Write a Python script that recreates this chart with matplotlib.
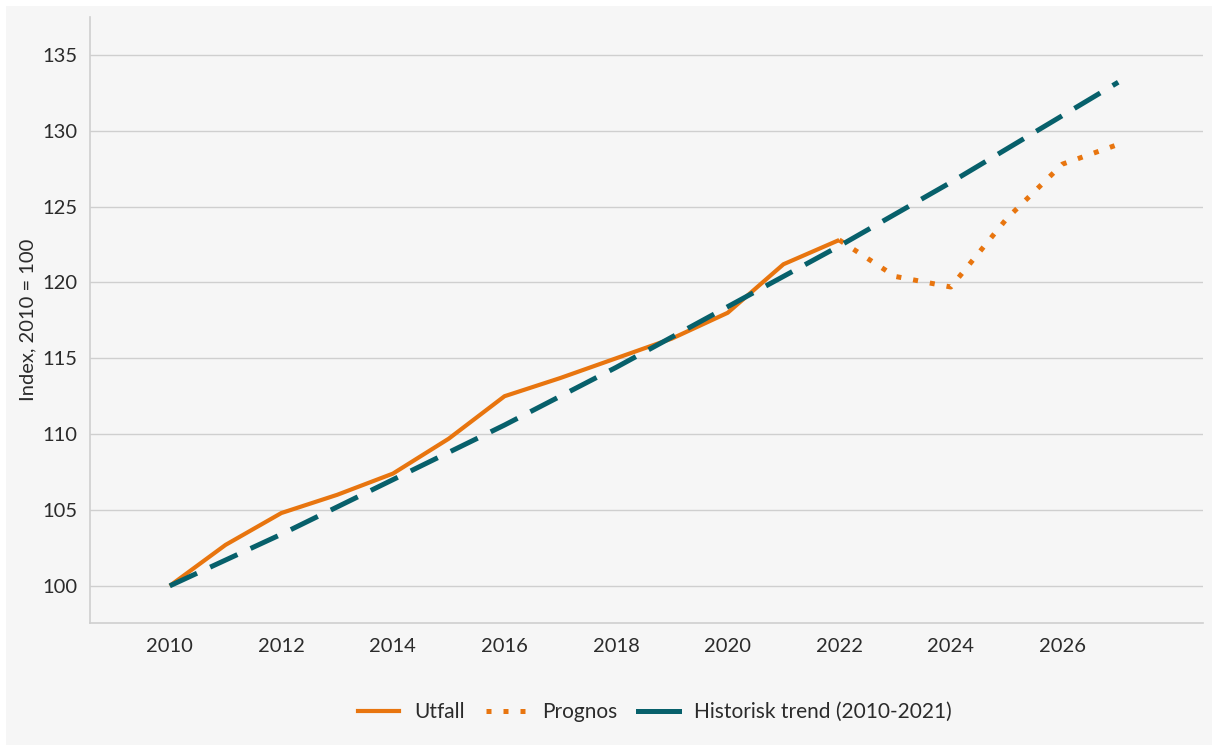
import matplotlib
matplotlib.use("Agg")
import matplotlib.pyplot as plt
from matplotlib.lines import Line2D
from matplotlib.patches import Rectangle

# Data
years_utfall = [2010, 2011, 2012, 2013, 2014, 2015, 2016, 2017, 2018, 2019, 2020, 2021, 2022]
utfall = [100.0, 102.7, 104.8, 106.0, 107.4, 109.7, 112.5, 113.7, 115.0, 116.3, 118.0, 121.2, 122.8]

years_prognos = [2022, 2023, 2024, 2025, 2026, 2027]
prognos = [122.8, 120.4, 119.7, 124.2, 127.8, 129.1]

years_trend = [2010, 2011, 2012, 2013, 2014, 2015, 2016, 2017, 2018,
               2019, 2020, 2021, 2022, 2023, 2024, 2025, 2026, 2027]
trend = [100.0, 101.7, 103.4, 105.2, 107.0, 108.8, 110.6, 112.5, 114.4,
         116.4, 118.4, 120.4, 122.4, 124.5, 126.6, 128.8, 131.0, 133.2]

x_ticks = [2010, 2012, 2014, 2016, 2018, 2020, 2022, 2024, 2026]
y_ticks = [100, 105, 110, 115, 120, 125, 130, 135]

labels = ["Utfall", "Prognos", "Historisk trend (2010-2021)"]
ylabel = "Index, 2010 = 100"

ORANGE = "#e8750f"
TEAL = "#07606b"
BG = "#f6f6f6"
GRID = "#cfcfcf"
TXT = "#2b2b2b"

plt.rcParams['font.family'] = ['Lato', 'DejaVu Sans']

fig = plt.figure(figsize=(12.12, 7.45), dpi=100, facecolor="white")
fig.patches.append(Rectangle((6 / 1212, 0), 1 - 6 / 1212, 1 - 6 / 745,
                             transform=fig.transFigure, facecolor=BG,
                             edgecolor="none", zorder=-10))

ax = fig.add_axes([90 / 1212, (745 - 623) / 745, (1203 - 90) / 1212, (623 - 17) / 745])
ax.set_facecolor(BG)

ax.plot(years_utfall, utfall, color=ORANGE, lw=3.0, solid_capstyle="butt",
        solid_joinstyle="round", zorder=3)
ax.plot(years_prognos, prognos, color=ORANGE, lw=3.6, linestyle=(0, (1, 2.4)),
        dash_capstyle="butt", zorder=3)
ax.plot(years_trend, trend, color=TEAL, lw=3.6, linestyle=(0, (6.0, 2.9)),
        dash_capstyle="butt", zorder=4)

ax.set_xlim(2008.57, 2028.52)
ax.set_ylim(97.55, 137.5)
ax.set_xticks(x_ticks)
ax.set_yticks(y_ticks)
ax.tick_params(axis="both", length=0, labelsize=14.5, colors=TXT)
ax.tick_params(axis="y", pad=9)
ax.tick_params(axis="x", pad=11)

ax.grid(axis="y", color=GRID, lw=1.0)
ax.set_axisbelow(True)
for s in ["top", "right"]:
    ax.spines[s].set_visible(False)
for s in ["left", "bottom"]:
    ax.spines[s].set_color(GRID)
    ax.spines[s].set_linewidth(1.2)

ax.set_ylabel(ylabel, fontsize=14.5, color=TXT)
ax.yaxis.set_label_coords((36 - 90) / 1113, 0.5)

handles = [
    Line2D([], [], color=ORANGE, lw=3.0),
    Line2D([], [], color=ORANGE, lw=3.6, linestyle=(0, (1, 2.4)), dash_capstyle="butt"),
    Line2D([], [], color=TEAL, lw=3.6),
]
fig.legend(handles, labels, loc="center", bbox_to_anchor=(655 / 1212, 1 - 712 / 745),
           ncol=3, frameon=False, fontsize=15, labelcolor=TXT,
           handlelength=1.95, columnspacing=1.0, handletextpad=0.75)

fig.savefig("out.png", dpi=100, facecolor=fig.get_facecolor())
